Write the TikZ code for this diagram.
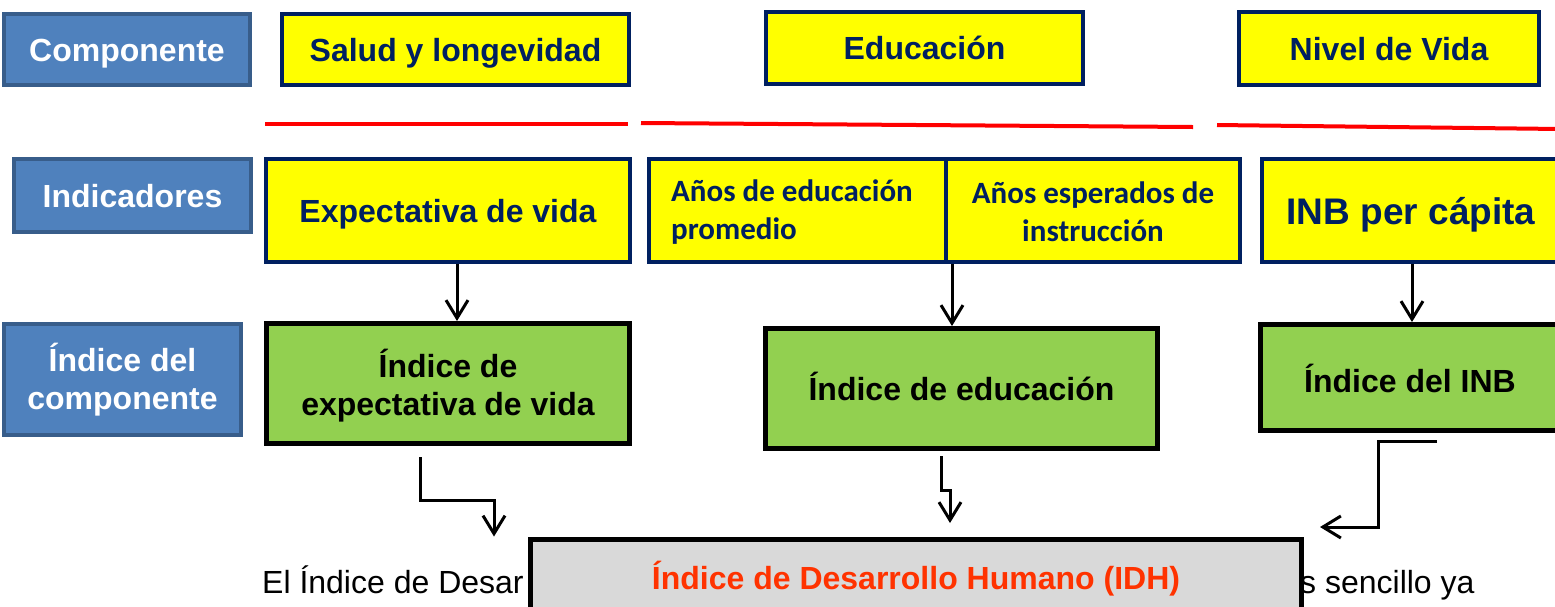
\documentclass[tikz,border=0pt]{standalone}
\usepackage{fontspec}
\setmainfont{Liberation Sans}
\newfontfamily\calib{Carlito}
\usetikzlibrary{arrows.meta}
\definecolor{bfill}{HTML}{4F81BD}
\definecolor{bbord}{HTML}{385D8A}
\definecolor{navy}{HTML}{002060}
\definecolor{yfill}{HTML}{FFFF00}
\definecolor{gfill}{HTML}{92D050}
\definecolor{idhfill}{HTML}{D9D9D9}
\definecolor{idhtext}{HTML}{FF3300}
\definecolor{redln}{HTML}{FF0000}
\tikzset{
  bigfont/.style={font=\bfseries\fontsize{32}{38}\selectfont},
  calfont/.style={font=\calib\bfseries\fontsize{31}{38}\selectfont},
  oneline/.style={text height=26pt, text depth=3pt},
  catbox/.style={draw=bbord, fill=bfill, line width=4pt, text=white, bigfont, align=center, inner sep=0pt},
  ybox/.style={draw=navy, fill=yfill, line width=4pt, text=navy, bigfont, align=center, inner sep=0pt},
  gbox/.style={draw=black, fill=gfill, line width=5pt, text=black, bigfont, align=center, inner sep=0pt},
  idhbox/.style={draw=black, fill=idhfill, line width=5pt, inner sep=0pt},
  txt/.style={inner sep=0pt},
  arr/.style={line width=3pt, -{Straight Barb[length=18pt,width=22pt]}},
  redline/.style={draw=redln, line width=4pt},
}
\begin{document}
\begin{tikzpicture}[x=1pt,y=-1pt]
\clip (0,0) rectangle (1555,606);
\fill[white] (0,0) rectangle (1555,606);

% row 1: componente
\node[catbox, oneline, minimum width=246pt, minimum height=71pt] (comp) at (127,49.5) {Componente};
\node[ybox, oneline, minimum width=347pt, minimum height=71pt] (salud) at (455.5,49.5) {Salud y longevidad};
\node[ybox, oneline, minimum width=317pt, minimum height=72pt] (educ) at (924.5,48) {Educación};
\node[ybox, oneline, minimum width=300pt, minimum height=73pt] (nivel) at (1389,48.5) {Nivel de Vida};

% red lines
\draw[redline] (265,124) -- (628,124);
\draw[redline] (641,123) -- (1193,127);
\draw[redline] (1217,125) -- (1560,129);

% row 2: indicadores
\node[catbox, oneline, minimum width=237pt, minimum height=73pt] (indic) at (132.5,195.5) {Indicadores};
\node[ybox, oneline, minimum width=364pt, minimum height=103pt] (expv) at (448,210.5) {Expectativa de vida};
\node[ybox, minimum width=297pt, minimum height=103pt] (anos1) at (797.5,210.5) {};
\node[txt, anchor=west, text=navy, calfont, align=left] (anos1txt) at (671,212) {Años de educación\\promedio};
\node[ybox, minimum width=294pt, minimum height=103pt] (anos2) at (1093,210.5) {};
\node[txt, text=navy, calfont, align=center] (anos2txt) at (1093,212) {Años esperados de\\instrucción};
\node[ybox, minimum width=316pt, minimum height=103pt] (inb) at (1420,210.5) {};
\node[txt, anchor=base, text=navy, font=\bfseries\fontsize{37}{44}\selectfont] (inbtxt) at (1411,224) {INB per cápita};

% row 3: indices
\node[catbox, minimum width=237pt, minimum height=111pt] (indcomp) at (122.5,379.5) {Índice del\\componente};
\node[gbox, minimum width=363pt, minimum height=120pt] (iev) at (448,383.5) {};
\node[txt, bigfont, align=center] (ievtxt) at (448,386) {Índice de\\expectativa de vida};
\node[gbox, oneline, minimum width=392pt, minimum height=120pt] (ied) at (961.5,388.5) {Índice de educación};
\node[gbox, minimum width=317pt, minimum height=106pt] (iinb) at (1419,377.5) {};
\node[txt, anchor=base, bigfont] (iinbtxt) at (1410,392) {Índice del INB};

% arrows indicators -> indices
\draw[arr] ([xshift=9pt]expv.south) -- ([xshift=9pt]iev.north);
\draw[arr] ([xshift=-9.5pt]ied.north |- anos2.south) -- ([xshift=-9.5pt]ied.north);
\draw[arr] ([xshift=-7pt]iinb.north |- inb.south) -- ([xshift=-7pt]iinb.north);

% background sentence
\node[txt, anchor=base west, font=\fontsize{32}{38}\selectfont] (bt1) at (262,593) {El Índice de Desar};
\node[txt, anchor=base west, font=\fontsize{32}{38}\selectfont] (bt2) at (1300,593) {s sencillo ya};

% IDH box
\node[idhbox, minimum width=771pt, minimum height=100pt] (idh) at (916,589) {};
\node[txt, anchor=base, text=idhtext, bigfont] (idhtxt) at (916,589) {Índice de Desarrollo Humano (IDH)};

% connectors to IDH
\coordinate (s1) at (420,457);
\coordinate (k1) at (420,500);
\coordinate (k2) at (494,500);
\draw[arr] (s1) -- (k1) -- (k2) -- (k2 |- idh.north);

\coordinate (s2) at (941,456);
\coordinate (k3) at (941,490);
\coordinate (k4) at (950,490);
\draw[arr] (s2) -- (k3) -- (k4) -- (950,523);

\coordinate (s3) at (1437,441);
\coordinate (k5) at (1378,441);
\coordinate (k6) at (1378,527);
\coordinate (e3) at (1320,527);
\draw[arr] (s3) -- (k5) -- (k6) -- (e3);
\end{tikzpicture}
\end{document}
